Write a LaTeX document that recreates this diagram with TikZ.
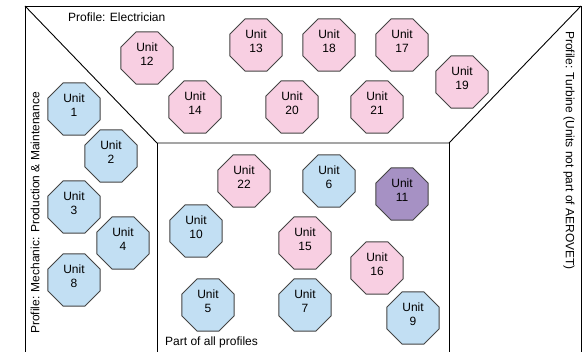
\documentclass[tikz,border=0pt]{standalone}
\usepackage{fontspec}
\setmainfont{Liberation Sans}
\usetikzlibrary{shapes.geometric}
\definecolor{unitpink}{HTML}{F8CFE2}
\definecolor{unitblue}{HTML}{C2DFF3}
\definecolor{unitpurple}{HTML}{A691C4}
\definecolor{unitedge}{HTML}{444444}
\tikzset{
  unit/.style={regular polygon, regular polygon sides=8, minimum size=56.5pt,
    inner sep=0pt, draw=unitedge, line width=0.9pt, align=center,
    text depth=8pt, font=\fontsize{12}{14}\selectfont},
  pinkunit/.style={unit, fill=unitpink},
  blueunit/.style={unit, fill=unitblue},
  purpleunit/.style={unit, fill=unitpurple},
  frame/.style={draw=black, line width=0.9pt},
  caption/.style={inner sep=0pt, font=\fontsize{12}{14}\selectfont},
}
\begin{document}
\begin{tikzpicture}[x=1pt, y=-1pt]
\useasboundingbox (0,0) rectangle (583,352);
% outer outline and region dividers
\coordinate (tl) at (25,6);
\coordinate (tr) at (581,6);
\coordinate (bl) at (25,352);
\coordinate (br) at (581,352);
\coordinate (il) at (157,143);
\coordinate (ir) at (449,143);
\coordinate (ilb) at (157,352);
\coordinate (irb) at (449,352);
\draw[frame] (bl) -- (tl) -- (tr) -- (br);
\draw[frame] (tl) -- (il) -- (ir) -- (tr);
\draw[frame] (il) -- (ilb);
\draw[frame] (ir) -- (irb);
% region captions
\node[caption, anchor=base west] (elec) at (68,21.5) {Profile: Electrician};
\node[caption, anchor=base west] (common) at (165,345) {Part of all profiles};
\node[caption, rotate=90, anchor=west] (mech) at (35,334) {Profile: Mechanic: Production \& Maintenance};
\node[caption, rotate=-90, anchor=west] (turb) at (569,31) {Profile: Turbine (Units not part of AEROVET)};
% electrician units
\node[pinkunit] (u12) at (147,58) {Unit\\12};
\node[pinkunit] (u13) at (256,45) {Unit\\13};
\node[pinkunit] (u18) at (329,45) {Unit\\18};
\node[pinkunit] (u17) at (402,45) {Unit\\17};
\node[pinkunit] (u19) at (462,82) {Unit\\19};
\node[pinkunit] (u14) at (195,107) {Unit\\14};
\node[pinkunit] (u20) at (292,107) {Unit\\20};
\node[pinkunit] (u21) at (377,107) {Unit\\21};
% mechanic units
\node[blueunit] (u1) at (74,109) {Unit\\1};
\node[blueunit] (u2) at (111,156) {Unit\\2};
\node[blueunit] (u3) at (74,207) {Unit\\3};
\node[blueunit] (u4) at (123,243) {Unit\\4};
\node[blueunit] (u8) at (74,280) {Unit\\8};
% shared units
\node[pinkunit] (u22) at (244,181) {Unit\\22};
\node[blueunit] (u6) at (329,181) {Unit\\6};
\node[purpleunit] (u11) at (402,194) {Unit\\11};
\node[blueunit] (u10) at (196,231) {Unit\\10};
\node[pinkunit] (u15) at (305,243) {Unit\\15};
\node[pinkunit] (u16) at (377,268) {Unit\\16};
\node[blueunit] (u5) at (208,305) {Unit\\5};
\node[blueunit] (u7) at (305,305) {Unit\\7};
\node[blueunit] (u9) at (413,318) {Unit\\9};
\end{tikzpicture}
\end{document}
